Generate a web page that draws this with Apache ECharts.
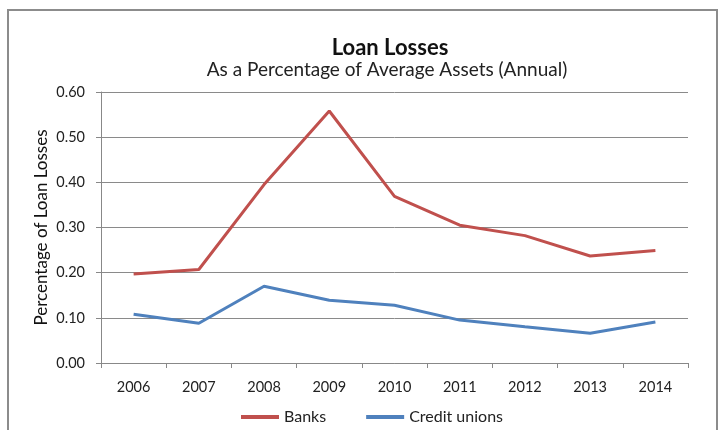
<!DOCTYPE html>
<html>

<head>
  <title>Loan Losses</title>
  <script src="https://cdn.jsdelivr.net/npm/echarts@6/dist/echarts.min.js"></script>
  <style>
    body { margin: 0; background: #fff; }
  </style>
</head>

<body>
  <div id="chart" style="width: 721px;height:430px;"></div>
  <script>
    let years = ['2006', '2007', '2008', '2009', '2010', '2011', '2012', '2013', '2014'];
    let banks = [0.197, 0.207, 0.395, 0.558, 0.369, 0.305, 0.282, 0.237, 0.249];
    let creditUnions = [0.108, 0.088, 0.170, 0.139, 0.128, 0.095, 0.080, 0.066, 0.091];

    let font = 'Lato';
    let myChart = echarts.init(document.getElementById('chart'));
    let option = {
      animation: false,
      textStyle: { fontFamily: font },
      graphic: [{
        type: 'rect',
        shape: { x: 8, y: 10, width: 709, height: 430 },
        style: { fill: 'none', stroke: '#8c8c8c', lineWidth: 2 },
        silent: true
      }],
      title: [{
        text: 'Loan Losses',
        left: 385,
        top: 26,
        textAlign: 'center',
        textStyle: { fontFamily: font, fontSize: 22, fontWeight: 'bold', color: '#111' }
      }, {
        text: 'As a Percentage of Average Assets (Annual)',
        left: 382,
        top: 51,
        textAlign: 'center',
        textStyle: { fontFamily: font, fontSize: 19, fontWeight: 'normal', color: '#222' }
      }],
      legend: {
        top: 400,
        left: 236,
        itemWidth: 38,
        itemHeight: 4,
        itemGap: 40,
        icon: 'rect',
        textStyle: { fontFamily: font, fontSize: 16, color: '#222' },
        data: ['Banks', 'Credit unions']
      },
      grid: {
        left: 101,
        right: 33,
        top: 92,
        bottom: 67
      },
      xAxis: {
        type: 'category',
        data: years,
        boundaryGap: true,
        axisLine: { lineStyle: { color: '#888', width: 1 } },
        axisTick: { show: true, length: 5, lineStyle: { color: '#888' } },
        axisLabel: { color: '#222', fontSize: 14.5, margin: 13, fontFamily: font }
      },
      yAxis: {
        type: 'value',
        min: 0,
        max: 0.6,
        interval: 0.1,
        name: 'Percentage of Loan Losses',
        nameLocation: 'middle',
        nameGap: 47,
        nameMoveOverlap: false,
        nameTextStyle: { color: '#111', fontSize: 17, fontFamily: font },
        axisLine: { show: true, lineStyle: { color: '#888' } },
        axisTick: { show: true, length: 5, lineStyle: { color: '#888' } },
        splitLine: { lineStyle: { color: '#8a8a8a', width: 1 } },
        axisLabel: {
          color: '#222', fontSize: 14.5, margin: 16, fontFamily: font,
          formatter: function (v) { return v.toFixed(2); }
        }
      },
      series: [{
        name: 'Banks',
        type: 'line',
        data: banks,
        symbol: 'none',
        itemStyle: { color: '#c0504d' },
        lineStyle: { color: '#c0504d', width: 3 }
      }, {
        name: 'Credit unions',
        type: 'line',
        data: creditUnions,
        symbol: 'none',
        itemStyle: { color: '#4f81bd' },
        lineStyle: { color: '#4f81bd', width: 3 }
      }]
    };
    myChart.setOption(option);
  </script>

</body>

</html>
